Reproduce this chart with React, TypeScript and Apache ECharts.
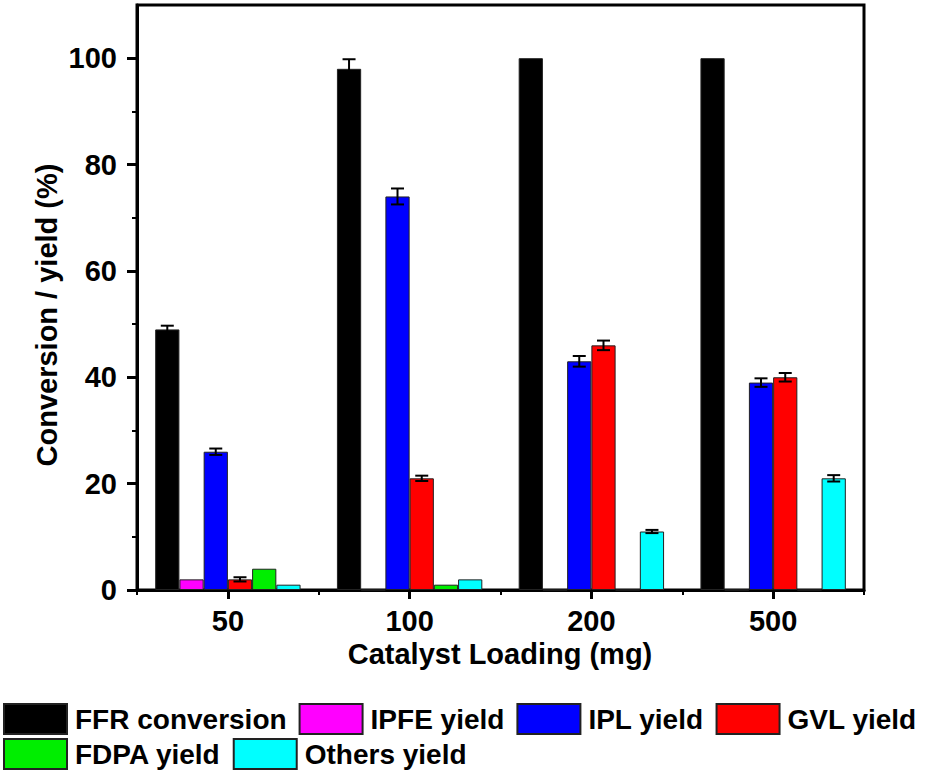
import React, { useEffect, useRef } from "react";
import * as echarts from "echarts";

const categories = ["50", "100", "200", "500"];
const seriesNames = ["FFR conversion", "IPFE yield", "IPL yield", "GVL yield", "FDPA yield", "Others yield"];
const seriesColors = ["#000000", "#ff00ff", "#0000ff", "#ff0000", "#00ee00", "#00ffff"];

const ffrConversion = [49, 98, 100, 100];
const ipfeYield = [2, 0, 0, 0];
const iplYield = [26, 74, 43, 39];
const gvlYield = [2, 21, 46, 40];
const fdpaYield = [4, 1, 0, 0];
const othersYield = [1, 2, 11, 21];

const ffrErr = [0.7, 1.8, 0, 0];
const ipfeErr = [0, 0, 0, 0];
const iplErr = [0.6, 1.5, 1.0, 0.8];
const gvlErr = [0.4, 0.5, 0.9, 0.8];
const fdpaErr = [0, 0, 0, 0];
const othersErr = [0, 0, 0.3, 0.6];

const yMajorTicks = [0, 20, 40, 60, 80, 100];
const yMinorTicks = [10, 30, 50, 70, 90];

const FONT = "'Liberation Sans', Arial, sans-serif";

export default function App() {
  const ref = useRef<HTMLDivElement>(null);
  useEffect(() => {
    document.body.style.margin = "0";
    if (!ref.current) return;
    const chart = echarts.init(ref.current, null, { renderer: "svg" });
    const values = [ffrConversion, ipfeYield, iplYield, gvlYield, fdpaYield, othersYield];
    const errs = [ffrErr, ipfeErr, iplErr, gvlErr, fdpaErr, othersErr];
    const nS = values.length;
    const catGap = 0.2;

    const errData: number[][] = [];
    values.forEach((arr, s) => {
      arr.forEach((v, c) => {
        if (errs[s][c] > 0) errData.push([c, s, v, errs[s][c]]);
      });
    });

    const barSeries = values.map((arr, s) => ({
      name: seriesNames[s],
      type: "bar",
      data: arr,
      barGap: "0%",
      barCategoryGap: "20%",
      itemStyle: { color: seriesColors[s], borderColor: "#222", borderWidth: 1 },
      z: 2,
    }));

    const textStyle = { fontFamily: FONT, fontWeight: "bold", fontSize: 28, color: "#000" };

    chart.setOption({
      animation: false,
      grid: {
        left: 137,
        right: 64,
        top: 5,
        bottom: 185,
        show: true,
        borderColor: "#000",
        borderWidth: 3,
      },
      legend: [
        {
          data: seriesNames.slice(0, 4),
          left: 3,
          top: 703,
          padding: 0,
          itemWidth: 63,
          itemHeight: 30,
          itemGap: 12,
          icon: "rect",
          textStyle: { ...textStyle, padding: [0, 0, 0, 3] },
        },
        {
          data: seriesNames.slice(4),
          left: 3,
          top: 738,
          padding: 0,
          itemWidth: 63,
          itemHeight: 30,
          itemGap: 12,
          icon: "rect",
          textStyle: { ...textStyle, padding: [0, 0, 0, 3] },
        },
      ],
      xAxis: [
        {
          type: "category",
          data: categories,
          position: "bottom",
          axisLine: { show: true, lineStyle: { color: "#000", width: 3 } },
          axisTick: { show: true, alignWithLabel: true, length: 9, lineStyle: { color: "#000", width: 3 } },
          axisLabel: { ...textStyle, fontSize: 29, margin: 16 },
          splitLine: { show: false },
        },
        {
          type: "category",
          data: categories,
          position: "bottom",
          offset: 0,
          axisLine: { show: false },
          axisTick: { show: true, alignWithLabel: false, length: 5, lineStyle: { color: "#000", width: 2 } },
          axisLabel: { show: false },
          splitLine: { show: false },
        },
      ],
      yAxis: [
        {
          type: "value",
          min: 0,
          max: 110,
          interval: 10,
          position: "left",
          axisLine: { show: true, lineStyle: { color: "#000", width: 3 } },
          axisTick: { show: true, length: 10, customValues: yMajorTicks, lineStyle: { color: "#000", width: 3 } },
          axisLabel: { ...textStyle, fontSize: 29, margin: 20, customValues: yMajorTicks },
          splitLine: { show: false },
        },
        {
          type: "value",
          min: 0,
          max: 110,
          interval: 10,
          position: "left",
          offset: 0,
          axisLine: { show: false },
          axisTick: { show: true, length: 5, customValues: yMinorTicks, lineStyle: { color: "#000", width: 2 } },
          axisLabel: { show: false },
          splitLine: { show: false },
        },
      ],
      graphic: [
        {
          type: "text",
          x: 47,
          y: 315,
          rotation: Math.PI / 2,
          style: {
            text: "Conversion / yield (%)",
            fontFamily: FONT,
            fontWeight: "bold",
            fontSize: 29,
            fill: "#000",
            textAlign: "center",
            textVerticalAlign: "middle",
          },
        },
        {
          type: "text",
          x: 500,
          y: 654,
          style: {
            text: "Catalyst Loading (mg)",
            fontFamily: FONT,
            fontWeight: "bold",
            fontSize: 29,
            fill: "#000",
            textAlign: "center",
            textVerticalAlign: "middle",
          },
        },
      ],
      series: [
        ...barSeries,
        {
          type: "custom",
          name: "err",
          data: errData,
          encode: { x: 0, y: 2 },
          z: 5,
          renderItem: (params: any, api: any) => {
            const c = api.value(0);
            const s = api.value(1);
            const v = api.value(2);
            const e = api.value(3);
            const band = api.size([1, 0])[0];
            const barW = (band * (1 - catGap)) / nS;
            const cx = api.coord([c, 0])[0] - (band * (1 - catGap)) / 2 + (s + 0.5) * barW;
            const yT = api.coord([c, v + e])[1];
            const yB = api.coord([c, v - e])[1];
            const cap = 6.5;
            const st = { stroke: "#000", lineWidth: 2 };
            return {
              type: "group",
              children: [
                { type: "line", shape: { x1: cx, y1: yT, x2: cx, y2: yB }, style: st },
                { type: "line", shape: { x1: cx - cap, y1: yT, x2: cx + cap, y2: yT }, style: st },
                { type: "line", shape: { x1: cx - cap, y1: yB, x2: cx + cap, y2: yB }, style: st },
              ],
            };
          },
        },
      ],
    });
    return () => chart.dispose();
  }, []);
  return <div ref={ref} style={{ position: "absolute", left: 0, top: 0, width: 928, height: 775 }} />;
}
